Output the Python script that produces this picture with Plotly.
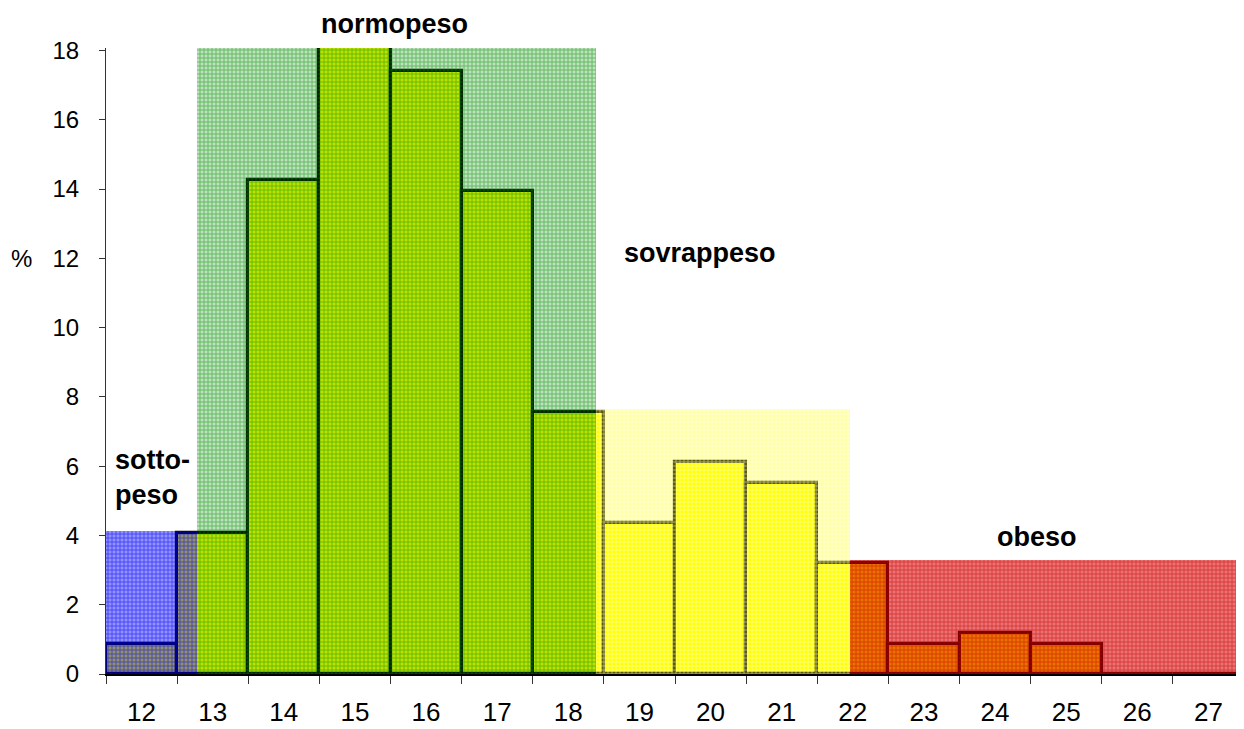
import plotly.graph_objects as go

# ---- data ----
categories = [12, 13, 14, 15, 16, 17, 18, 19, 20, 21, 22, 23, 24, 25, 26, 27]
percent = [0.87, 4.08, 14.25, 18.3, 17.4, 13.95, 7.55, 4.35, 6.12, 5.52, 3.2, 0.87, 1.17, 0.87, 0, 0]

band_names = ["sottopeso", "normopeso", "sovrappeso", "obeso"]
band_start = [11.5, 12.78, 18.385, 21.955]
band_end = [12.78, 18.385, 21.955, 27.5]
band_top = [4.14, 18.07, 7.64, 3.28]
band_bg = ["rgba(0,0,255,0.43)", "rgba(0,130,0,0.25)", "rgba(255,255,0,0.36)", "rgba(215,0,0,0.55)"]
band_fg = ["rgb(0,0,235)", "rgb(0,150,0)", "rgb(255,255,255)", "rgb(205,0,0)"]

y_ticks = [0, 2, 4, 6, 8, 10, 12, 14, 16, 18]

FONT = "Liberation Sans, Arial, sans-serif"

fig = go.Figure()

# histogram bars (drawn first, the coloured bands lie over them)
fig.add_trace(go.Bar(
    x=categories, y=percent, width=1,
    marker=dict(color="#ffff00", line=dict(color="black", width=3.2)),
    showlegend=False, hoverinfo="x+y",
))

# translucent patterned bands
for name, s, e, top, bg, fg in zip(band_names, band_start, band_end, band_top, band_bg, band_fg):
    fig.add_trace(go.Bar(
        x=[(s + e) / 2], y=[top], width=[e - s], base=0,
        marker=dict(
            color=bg, line=dict(width=0),
            pattern=dict(shape="+", bgcolor=bg, fgcolor=fg, fgopacity=0.6, size=4, solidity=0.35),
        ),
        name=name, showlegend=False, hoverinfo="name",
    ))

boundaries = [c - 0.5 for c in categories] + [categories[-1] + 0.5]

fig.update_layout(
    width=1236, height=721,
    margin=dict(l=98, r=0, t=40, b=55, autoexpand=False),
    paper_bgcolor="white", plot_bgcolor="white",
    barmode="overlay", bargap=0,
    font=dict(family=FONT, size=24, color="black"),
    xaxis=dict(
        range=[boundaries[0], boundaries[-1]],
        tickmode="array", tickvals=categories, ticktext=[str(c) for c in categories],
        ticks="", showgrid=False, zeroline=False,
        showline=True, linecolor="black", linewidth=2,
        tickfont=dict(family=FONT, size=26, color="black"),
        ticklabelstandoff=14, automargin=False,
        minor=dict(tickmode="array", tickvals=boundaries, ticks="outside",
                   ticklen=8, tickwidth=1, tickcolor="#333333", showgrid=False),
    ),
    yaxis=dict(
        range=[0, 18.07],
        tickmode="array", tickvals=y_ticks,
        ticks="outside", ticklen=6, tickcolor="#333333",
        showgrid=False, zeroline=False,
        showline=True, linecolor="#333333", linewidth=1,
        tickfont=dict(family=FONT, size=24, color="black"),
        ticklabelstandoff=15, automargin=False,
    ),
)

bold = dict(family=FONT, size=27, color="black")
fig.add_annotation(text="%", xref="paper", yref="y", x=-0.0852, y=12, xanchor="left",
                   showarrow=False, font=dict(family=FONT, size=24, color="black"))
fig.add_annotation(text="<b>sotto-<br>peso</b>", xref="x", yref="y", x=11.6, y=5.66,
                   xanchor="left", yanchor="middle", align="left", showarrow=False, font=bold)
fig.add_annotation(text="<b>normopeso</b>", xref="x", yref="paper", x=15.56, y=1.039,
                   xanchor="center", yanchor="middle", showarrow=False, font=bold)
fig.add_annotation(text="<b>sovrappeso</b>", xref="x", yref="y", x=19.85, y=12.15,
                   xanchor="center", yanchor="middle", showarrow=False, font=bold)
fig.add_annotation(text="<b>obeso</b>", xref="x", yref="y", x=24.59, y=3.95,
                   xanchor="center", yanchor="middle", showarrow=False, font=bold)

fig.write_html("out.html")
